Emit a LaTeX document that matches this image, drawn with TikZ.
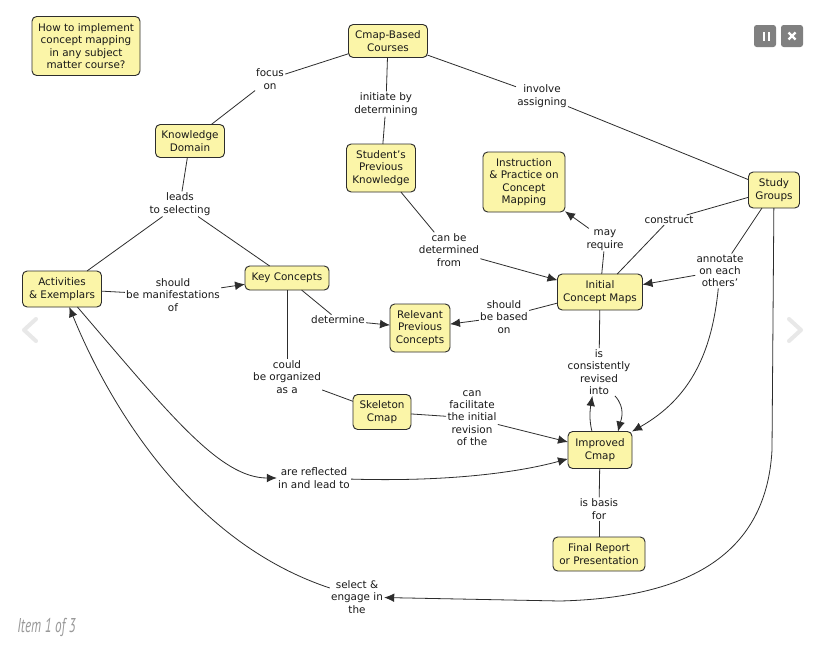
\documentclass[tikz,border=0pt]{standalone}
\usepackage{fontspec}
\setmainfont{DejaVu Sans}
\newfontfamily\itemfont{PT Sans}
\usetikzlibrary{arrows.meta}
\definecolor{cfill}{RGB}{251,245,168}
\definecolor{cline}{RGB}{45,45,45}
\definecolor{ctext}{RGB}{25,25,25}
\definecolor{btn}{RGB}{128,128,128}
\begin{document}
\begin{tikzpicture}[x=0.75pt,y=-0.75pt,
 concept/.style={draw=cline, fill=cfill, rounded corners=3.5pt, line width=0.7pt, align=center,
   font=\fontsize{7.8}{9.3}\selectfont, text=ctext, inner sep=1pt, outer sep=0pt},
 lnk/.style={align=center, font=\fontsize{7.8}{9.3}\selectfont, text=ctext, inner sep=1pt, outer sep=0pt},
 conn/.style={draw=cline, line width=0.6pt},
 arr/.style={conn, -{Latex[length=7.5pt,width=6.5pt]}},
 chev/.style={draw=gray!18, line width=3pt, line cap=round, line join=round},
]
\useasboundingbox (0,0) rectangle (822,661);
\fill[white] (0,0) rectangle (822,661);

% concepts
\node[concept, minimum width=81pt, minimum height=44.25pt] (q) at (86,46) {How to implement\\concept mapping\\in any subject\\matter course?};
\node[concept, minimum width=59.25pt, minimum height=24.75pt] (cmap) at (388,41) {Cmap-Based\\Courses};
\node[concept, minimum width=51.75pt, minimum height=24.75pt] (kd) at (190,141) {Knowledge\\Domain};
\node[concept, minimum width=51.75pt, minimum height=36pt] (spk) at (381,168) {Student's\\Previous\\Knowledge};
\node[concept, minimum width=61.5pt, minimum height=45pt] (ipr) at (524,182) {Instruction\\\& Practice on\\Concept\\Mapping};
\node[concept, minimum width=38.25pt, minimum height=27pt] (sg) at (774,190) {Study\\Groups};
\node[concept, minimum width=59.25pt, minimum height=27pt] (ae) at (62,289) {Activities\\\& Exemplars};
\node[concept, minimum width=63pt, minimum height=18pt] (kc) at (287,278) {Key Concepts};
\node[concept, minimum width=45pt, minimum height=36pt] (rpc) at (420,328) {Relevant\\Previous\\Concepts};
\node[concept, minimum width=63.75pt, minimum height=27pt] (icm) at (600,292) {Initial\\Concept Maps};
\node[concept, minimum width=43.5pt, minimum height=26.25pt] (skel) at (382,412) {Skeleton\\Cmap};
\node[concept, minimum width=48pt, minimum height=27.75pt] (imp) at (600,450) {Improved\\Cmap};
\node[concept, minimum width=69pt, minimum height=25.5pt] (fin) at (599,554) {Final Report\\or Presentation};

% linking phrases
\node[lnk] (focus) at (270,79) {focus\\on};
\node[lnk] (initiate) at (386,104) {initiate by\\determining};
\node[lnk] (involve) at (542,96) {involve\\assigning};
\node[lnk] (leads) at (180,204) {leads\\to selecting};
\node[lnk] (determined) at (449,250) {can be\\determined\\from};
\node[lnk] (mayreq) at (605,240) {may\\require};
\node[lnk] (construct) at (669,220) {construct};
\node[lnk] (annotate) at (720,271) {annotate\\on each\\others'};
\node[lnk] (manifest) at (173,295) {should\\be manifestations\\of};
\node[lnk] (determine) at (338,320) {determine};
\node[lnk] (basedon) at (504,317) {should\\be based\\on};
\node[lnk] (organized) at (287,377) {could\\be organized\\as a};
\node[lnk] (revised) at (599,372) {is\\consistently\\revised\\into};
\node[lnk] (facilitate) at (472,418) {can\\facilitate\\the initial\\revision\\of the};
\node[lnk] (reflected) at (314,478) {are reflected\\in and lead to};
\node[lnk] (basis) at (599,509) {is basis\\for};
\node[lnk] (select) at (357,597) {select \&\\engage in\\the};

% connectors
\draw[conn] (cmap) -- (focus);
\draw[conn] (focus) -- (kd);
\draw[conn] (cmap) -- (initiate);
\draw[conn] (initiate) -- (spk);
\draw[conn] (cmap) -- (involve);
\draw[conn] (involve) -- (sg);
\draw[conn] (kd) -- (leads);
\draw[conn] (leads) -- (ae);
\draw[conn] (leads) -- (kc);
\draw[conn] (spk) -- (determined);
\draw[arr] (determined) -- (icm);
\draw[conn] (icm) -- (mayreq);
\draw[arr] (mayreq) -- (ipr);
\draw[conn] (sg) -- (construct);
\draw[conn] (construct) -- (icm);
\draw[conn] (sg) -- (annotate);
\draw[arr] (annotate) -- (icm);
\draw[arr] (annotate) .. controls (712,352) and (691,398) .. (imp.north east);
\draw[conn] (ae) -- (manifest);
\draw[arr] (manifest) -- (kc);
\draw[conn] (kc) -- (determine);
\draw[arr] (determine) -- (rpc);
\draw[conn] (icm) -- (basedon);
\draw[arr] (basedon) -- (rpc);
\draw[conn] (kc) -- (organized);
\draw[conn] (organized) -- (skel);
\draw[conn] (icm) -- (revised);
\draw[arr] ([xshift=12pt]revised.south) .. controls (626,408) and (621,420) .. ([xshift=13.5pt]imp.north);
\draw[arr] ([xshift=-6pt]imp.north) .. controls (589,420) and (590,410) .. ([xshift=-5pt]revised.south);
\draw[conn] (skel) -- (facilitate);
\draw[arr] (facilitate) -- (imp);
\draw[arr] (ae) .. controls (170,415) and (220,478) .. (reflected);
\draw[arr] (reflected) .. controls (450,482) and (520,472) .. (imp);
\draw[conn] (imp) -- (basis);
\draw[conn] (basis) -- (fin);
\draw[arr] (sg) -- (772,450) .. controls (766,560) and (680,598) .. (560,601) -- (select);
\draw[arr] (select) .. controls (185,540) and (105,395) .. (ae);

% viewer controls
\draw[chev] (36,319) -- (24,330) -- (36,341);
\draw[chev] (789,319) -- (801,330) -- (789,341);
\fill[btn, rounded corners=2pt] (754,25) rectangle (776,47);
\fill[white] (762.5,31.5) rectangle (765,40.5);
\fill[white] (767.5,31.5) rectangle (770,40.5);
\fill[btn, rounded corners=2pt] (781,25) rectangle (803,47);
\draw[white, line width=1.8pt] (788.5,32.5) -- (795.5,39.5) (795.5,32.5) -- (788.5,39.5);
\node[anchor=west, inner sep=0pt, text=gray!80] (item) at (17,627) {\itemfont\itshape\fontsize{15}{15}\selectfont\scalebox{0.66}[1]{Item 1 of 3}};
\end{tikzpicture}
\end{document}
